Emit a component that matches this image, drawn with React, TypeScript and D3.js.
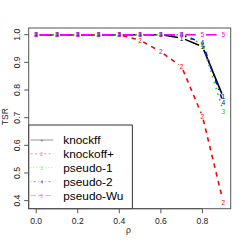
import React from "react";
import * as d3 from "d3";

const rho = [0, 0.1, 0.2, 0.3, 0.4, 0.5, 0.6, 0.7, 0.8, 0.9];
const knockff = [1, 1, 1, 1, 1, 1, 1, 0.988, 0.957, 0.775];
const knockoffPlus = [1, 1, 1, 1, 1, 0.98, 0.938, 0.884, 0.705, 0.395];
const pseudo1 = [1, 1, 1, 1, 1, 1, 1, 1, 0.966, 0.724];
const pseudo2 = [1, 1, 1, 1, 1, 1, 1, 1, 0.971, 0.755];
const pseudoWu = [1, 1, 1, 1, 1, 1, 1, 1, 1, 1];
const seriesNames = ["knockff", "knockoff+", "pseudo-1", "pseudo-2", "pseudo-Wu"];
const seriesColors = ["#000000", "#FF0000", "#00CD00", "#0000FF", "#FF00FF"];
const seriesDash = ["", "4.5,4.5", "1.5,4.5", "1.5,4.5,4.5,4.5", "10.5,4.5"];
const xTicks = [0, 0.2, 0.4, 0.6, 0.8];
const yTicks = [0.4, 0.5, 0.6, 0.7, 0.8, 0.9, 1.0];

const series = [knockff, knockoffPlus, pseudo1, pseudo2, pseudoWu];

export default function App() {
  const W = 245, H = 245;
  const L = 28.7, R = 230.7, T = 28, B = 208.7;
  const xExt = d3.extent(rho) as [number, number];
  const allY = series.flat();
  const yExt = d3.extent(allY) as [number, number];
  const xPad = (xExt[1] - xExt[0]) * 0.04;
  const yPad = (yExt[1] - yExt[0]) * 0.04;
  const x = d3.scaleLinear().domain([xExt[0] - xPad, xExt[1] + xPad]).range([L, R]);
  const y = d3.scaleLinear().domain([yExt[0] - yPad, yExt[1] + yPad]).range([B, T]);
  const font = "Liberation Sans, Arial, Helvetica, sans-serif";
  const gap = 3.6;

  const segs = (vals: number[]) => {
    const out: string[] = [];
    for (let i = 0; i < vals.length - 1; i++) {
      const x0 = x(rho[i]), y0 = y(vals[i]);
      const x1 = x(rho[i + 1]), y1 = y(vals[i + 1]);
      const len = Math.hypot(x1 - x0, y1 - y0);
      if (len <= 2 * gap) continue;
      const ux = (x1 - x0) / len, uy = (y1 - y0) / len;
      out.push(
        `M${x0 + ux * gap},${y0 + uy * gap}L${x1 - ux * gap},${y1 - uy * gap}`
      );
    }
    return out.join("");
  };

  const legTop = 125;
  const legRows = [140, 153.8, 167.6, 181.6, 195.6];

  return (
    <svg width={W} height={H} style={{ position: "absolute", left: 0, top: 0, background: "#fff" }}>
      <rect x={0} y={0} width={W} height={H} fill="#fff" />
      {series.map((vals, si) => (
        <g key={si}>
          <path
            d={segs(vals)}
            fill="none"
            stroke={seriesColors[si]}
            strokeWidth={1.6}
            strokeDasharray={seriesDash[si] || undefined}
          />
          {vals.map((v, i) => (
            <text
              key={i}
              x={x(rho[i])}
              y={y(v)}
              fontSize={6.5}
              fontFamily={font}
              fill={seriesColors[si]}
              textAnchor="middle"
              dominantBaseline="central"
            >
              {si === 4 ? "5" : String(si + 1)}
            </text>
          ))}
        </g>
      ))}
      {/* legend */}
      <rect x={L} y={legTop} width={132.3 - L} height={B - legTop} fill="#fff" stroke="#000" strokeWidth={0.8} />
      {seriesNames.map((name, si) => (
        <g key={name}>
          <line
            x1={30.5}
            x2={53.3}
            y1={legRows[si]}
            y2={legRows[si]}
            stroke={seriesColors[si]}
            strokeWidth={0.7}
            strokeOpacity={0.6}
            strokeDasharray={seriesDash[si] ? seriesDash[si].split(",").map((d) => +d / 1.6 * 0.8).join(",") : undefined}
          />
          <text
            x={41.7}
            y={legRows[si]}
            fontSize={5}
            fontFamily={font}
            fill={seriesColors[si]}
            fillOpacity={0.6}
            textAnchor="middle"
            dominantBaseline="central"
          >
            {si === 0 ? "+" : String(si + 1)}
          </text>
          <text x={63.3} y={legRows[si]} fontSize={11.8} fontFamily={font} fill="#000" dominantBaseline="central">
            {name}
          </text>
        </g>
      ))}
      {/* box */}
      <rect x={L} y={T} width={R - L} height={B - T} fill="none" stroke="#555" strokeWidth={1} />
      {/* x axis */}
      <line x1={x(xTicks[0])} x2={x(xTicks[xTicks.length - 1])} y1={B} y2={B} stroke="#555" strokeWidth={1} />
      {xTicks.map((t) => (
        <g key={t}>
          <line x1={x(t)} x2={x(t)} y1={B} y2={B + 4.5} stroke="#555" strokeWidth={1} />
          <text x={x(t)} y={220.5} fontSize={8.6} fontFamily={font} textAnchor="middle" dominantBaseline="central" fill="#222">
            {t.toFixed(1)}
          </text>
        </g>
      ))}
      {/* y axis */}
      {yTicks.map((t) => (
        <g key={t}>
          <line x1={L} x2={L - 4.5} y1={y(t)} y2={y(t)} stroke="#555" strokeWidth={1} />
          <text
            x={17.5}
            y={y(t)}
            fontSize={8.6}
            fontFamily={font}
            textAnchor="middle"
            dominantBaseline="central"
            fill="#222"
            transform={`rotate(-90, 17.5, ${y(t)})`}
          >
            {t.toFixed(1)}
          </text>
        </g>
      ))}
      <text x={128.5} y={230} fontSize={8.6} fontFamily={font} textAnchor="middle" dominantBaseline="central" fill="#222">
        ρ
      </text>
      <text
        x={5}
        y={116.7}
        fontSize={8.6}
        fontFamily={font}
        textAnchor="middle"
        dominantBaseline="central"
        fill="#222"
        transform="rotate(-90, 5, 116.7)"
      >
        TSR
      </text>
    </svg>
  );
}
